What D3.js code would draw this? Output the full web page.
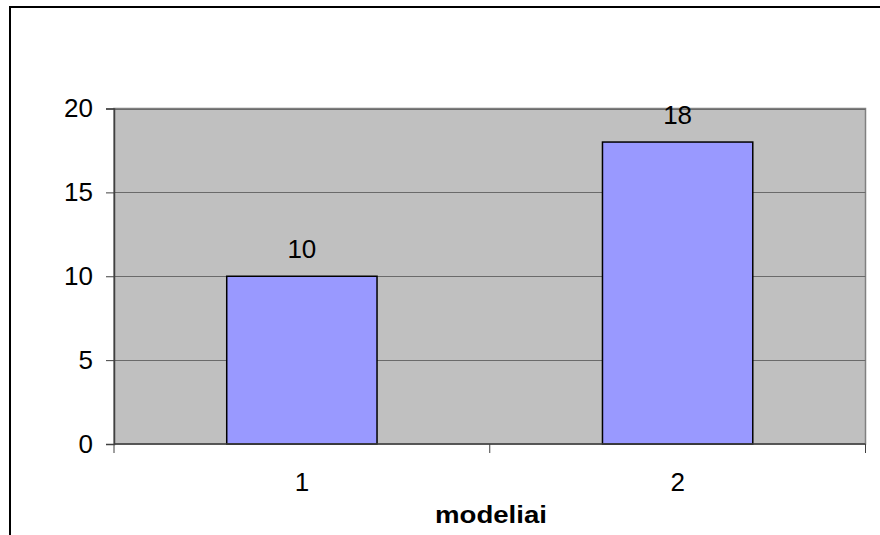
<!DOCTYPE html>
<html><head><meta charset="utf-8">
<script src="https://cdn.jsdelivr.net/npm/d3@7"></script>
<style>body{margin:0;background:#fff}svg{display:block}text{font-family:"Liberation Sans",Arial,sans-serif}</style>
</head><body><svg id="c" width="880" height="535"></svg>
<script>
const categories = ["1", "2"];
const values = [10, 18];
const yTicks = [0, 5, 10, 15, 20];
const xTitle = "modeliai";

const svg = d3.select("#c");
const L = 114, R = 865.5, T = 108.5, B = 444;
const FS = 26;

svg.append("rect").attr("x", 10).attr("y", 7).attr("width", 900).attr("height", 560)
  .attr("fill", "#fff").attr("stroke", "#000").attr("stroke-width", 2);

const x = d3.scaleBand().domain(categories).range([L, R]).paddingInner(0.6).paddingOuter(0.3);
const xb = d3.scaleBand().domain(categories).range([L, R]);
const y = d3.scaleLinear().domain([0, 20]).range([B, T]);

svg.append("rect").attr("x", L).attr("y", T).attr("width", R - L).attr("height", B - T)
  .attr("fill", "#c0c0c0").attr("stroke", "#808080").attr("stroke-width", 1.5);

svg.append("g").selectAll("line").data(yTicks.filter(d => d > 0)).join("line")
  .attr("x1", L).attr("x2", R).attr("y1", d => Math.round(y(d)) + 0.5).attr("y2", d => Math.round(y(d)) + 0.5)
  .attr("stroke", "#6a6a6a").attr("stroke-width", 1);

svg.append("g").selectAll("rect").data(values).join("rect")
  .attr("x", (d, i) => x(categories[i])).attr("width", x.bandwidth())
  .attr("y", d => y(d)).attr("height", d => B - y(d))
  .attr("fill", "#9999ff").attr("stroke", "#000").attr("stroke-width", 1.5);

svg.append("g").selectAll("text").data(values).join("text")
  .attr("x", (d, i) => x(categories[i]) + x.bandwidth() / 2).attr("y", d => y(d) - 18)
  .attr("text-anchor", "middle").attr("font-size", FS).text(d => d);

// y axis
const ya = d3.axisLeft(y).tickValues(yTicks).tickSize(8).tickPadding(13);
const gy = svg.append("g").attr("transform", `translate(${L},0)`).call(ya);
gy.select(".domain").attr("stroke", "#404040").attr("stroke-width", 1.5);
gy.selectAll(".tick line").attr("stroke", "#404040");
gy.selectAll(".tick text").attr("font-size", FS).attr("fill", "#000").attr("font-family", "Liberation Sans, Arial, sans-serif");

// x axis
const xs = d3.scaleLinear().domain([0, 2]).range([L, R]);
const gx = svg.append("g").attr("transform", `translate(0,${B})`);
gx.append("line").attr("x1", L).attr("x2", R).attr("stroke", "#404040").attr("stroke-width", 1.5);
gx.selectAll(".xt").data([0, 1, 2]).join("line").attr("class", "xt")
  .attr("x1", d => xs(d)).attr("x2", d => xs(d)).attr("y1", 0).attr("y2", 9).attr("stroke", "#404040");
gx.selectAll("text").data(categories).join("text")
  .attr("x", d => xb(d) + xb.bandwidth() / 2).attr("y", 47)
  .attr("text-anchor", "middle").attr("font-size", FS).text(d => d);

svg.append("text").attr("transform", "translate(435,523) scale(1.2,1)")
  .attr("font-size", 23).attr("font-weight", "bold").text(xTitle);
</script></body></html>
